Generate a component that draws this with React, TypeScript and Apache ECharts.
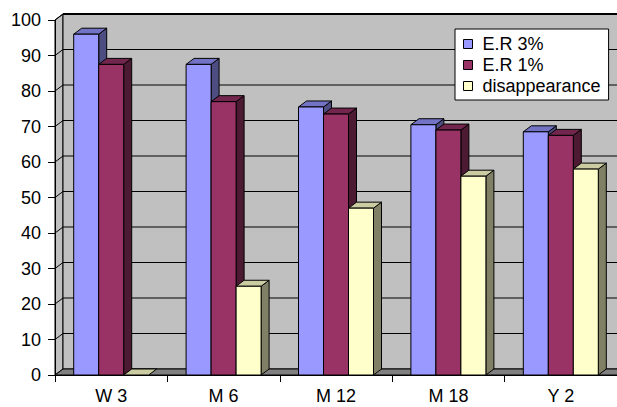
import React, { useEffect, useRef } from "react";
import * as echarts from "echarts";

const CATEGORIES = ["W 3", "M 6", "M 12", "M 18", "Y 2"];
const SERIES_NAMES = ["E.R 3%", "E.R 1%", "disappearance"];
const ER3 = [96, 87.5, 75.5, 70.5, 68.5];
const ER1 = [87.5, 77, 73.5, 69, 67.5];
const DISAPPEARANCE = [0, 25, 47, 56, 58];
const Y_MIN = 0;
const Y_MAX = 100;
const Y_STEP = 10;

const FACE_COLORS = [
  { front: "#9999FF", top: "#7373C6", side: "#4D4D82" },
  { front: "#993366", top: "#73264D", side: "#4D1A33" },
  { front: "#FFFFCC", top: "#CCCCA3", side: "#808066" },
];

const DX = 8;
const DY = -6;
const BAR_W = 25;
const FONT = "'Liberation Sans', Arial, sans-serif";
const FS = 18;

export default function App() {
  const ref = useRef<HTMLDivElement>(null);
  useEffect(() => {
    if (!ref.current) return;
    const chart = echarts.init(ref.current, null, { renderer: "svg" });
    const seriesData = [ER3, ER1, DISAPPEARANCE];

    const backgroundSeries: any = {
      type: "custom",
      name: "__bg",
      z: -1,
      silent: true,
      data: [[0, 0]],
      renderItem: (_p: any, api: any) => {
        const band = api.size([1, 0])[0];
        const [cx0, yB] = api.coord([0, Y_MIN]);
        const yT = api.coord([0, Y_MAX])[1];
        const left = cx0 - band / 2;
        const right = left + band * CATEGORIES.length;
        const children: any[] = [];
        children.push({
          type: "polygon",
          shape: { points: [[left, yT], [left + DX, yT + DY], [left + DX, yB + DY], [left, yB]] },
          style: { fill: "#C0C0C0", stroke: "#000", lineWidth: 1 },
        });
        children.push({
          type: "rect",
          shape: { x: left + DX, y: yT + DY, width: right - left, height: yB - yT },
          style: { fill: "#C0C0C0", stroke: "#000", lineWidth: 1 },
        });
        children.push({
          type: "polygon",
          shape: { points: [[left, yB], [left + DX, yB + DY], [right + DX, yB + DY], [right, yB]] },
          style: { fill: "#808080", stroke: "#000", lineWidth: 1 },
        });
        for (let v = Y_MIN + Y_STEP; v <= Y_MAX; v += Y_STEP) {
          const y = api.coord([0, v])[1];
          children.push({
            type: "line",
            shape: { x1: left + DX, y1: y + DY, x2: right + DX, y2: y + DY },
            style: { stroke: "#000", lineWidth: v === Y_MAX ? 2 : 1 },
          });
          children.push({
            type: "line",
            shape: { x1: left, y1: y, x2: left + DX, y2: y + DY },
            style: { stroke: "#000", lineWidth: 1 },
          });
        }
        return { type: "group", children };
      },
    };

    const barSeries = seriesData.map((vals, si) => ({
      type: "custom",
      name: SERIES_NAMES[si],
      z: 2,
      itemStyle: { color: FACE_COLORS[si].front, borderColor: "#000", borderWidth: 1 },
      data: vals.map((v, i) => [i, v]),
      renderItem: (_p: any, api: any) => {
        const cat = api.value(0);
        const val = api.value(1);
        const [cx, yv] = api.coord([cat, val]);
        const y0 = api.coord([cat, Y_MIN])[1];
        const x0 = cx - 1.5 * BAR_W + si * BAR_W;
        const x1 = x0 + BAR_W;
        const c = FACE_COLORS[si];
        const st = { stroke: "#000", lineWidth: 1, lineJoin: "round" };
        const children: any[] = [];
        if (y0 - yv > 0.5) {
          children.push({
            type: "polygon",
            shape: { points: [[x1, yv], [x1 + DX, yv + DY], [x1 + DX, y0 + DY], [x1, y0]] },
            style: { fill: c.side, ...st },
          });
        }
        children.push({
          type: "polygon",
          shape: { points: [[x0, yv], [x0 + DX, yv + DY], [x1 + DX, yv + DY], [x1, yv]] },
          style: { fill: c.top, ...st },
        });
        if (y0 - yv > 0.5) {
          children.push({
            type: "rect",
            shape: { x: x0, y: yv, width: BAR_W, height: y0 - yv },
            style: { fill: c.front, ...st },
          });
        }
        return { type: "group", children };
      },
    }));

    chart.setOption({
      animation: false,
      backgroundColor: "#fff",
      textStyle: { fontFamily: FONT },
      grid: { left: 55, right: 0, top: 20, bottom: 32, containLabel: false },
      legend: {
        orient: "vertical",
        left: 455,
        top: 29,
        padding: [6, 8, 5, 8],
        itemGap: 3,
        itemWidth: 9,
        itemHeight: 9,
        backgroundColor: "#fff",
        borderColor: "#000",
        borderWidth: 1,
        borderRadius: 0,
        selectedMode: false,
        textStyle: { fontSize: FS, color: "#000", fontFamily: FONT, padding: [0, 0, 0, 5] },
        data: SERIES_NAMES.map((n, i) => ({
          name: n,
          icon: "rect",
          itemStyle: { color: FACE_COLORS[i].front, borderColor: "#000", borderWidth: 1 },
        })),
      },
      xAxis: {
        type: "category",
        data: CATEGORIES,
        boundaryGap: true,
        axisLine: { show: true, lineStyle: { color: "#000", width: 1 } },
        axisTick: { show: true, length: 7, lineStyle: { color: "#000" } },
        axisLabel: { fontSize: FS, color: "#000", margin: 12, fontFamily: FONT },
        splitLine: { show: false },
      },
      yAxis: {
        type: "value",
        min: Y_MIN,
        max: Y_MAX,
        interval: Y_STEP,
        axisLine: { show: true, lineStyle: { color: "#000", width: 1 } },
        axisTick: { show: true, length: 7, lineStyle: { color: "#000" } },
        axisLabel: { fontSize: FS, color: "#000", margin: 14, fontFamily: FONT },
        splitLine: { show: false },
      },
      series: [backgroundSeries, ...barSeries],
    });
    return () => chart.dispose();
  }, []);
  return (
    <div
      ref={ref}
      style={{ position: "fixed", left: 0, top: 0, width: 617, height: 407 }}
    />
  );
}
